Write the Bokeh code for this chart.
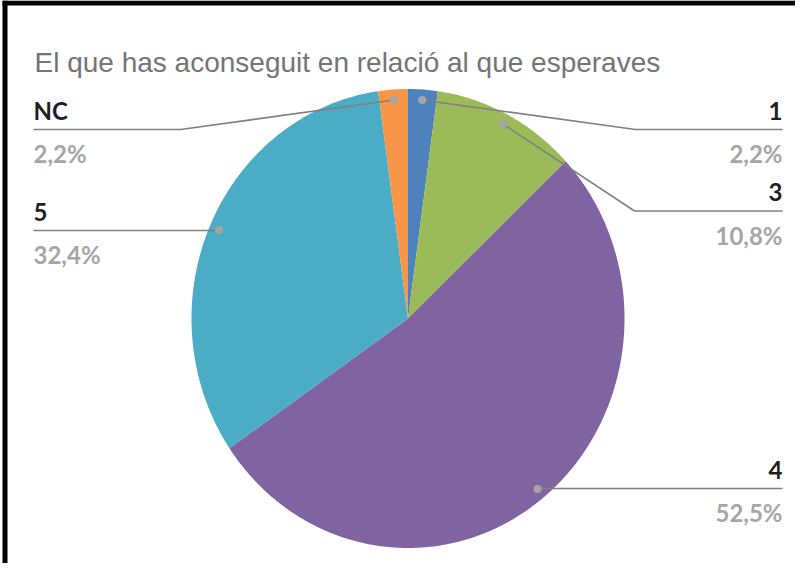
import numpy as np
from bokeh.plotting import figure
from bokeh.models import Range1d, ColumnDataSource
from bokeh.core.properties import value
from bokeh.embed import file_html
from bokeh.resources import INLINE

# ---- data ----
categories = ["1", "3", "4", "5", "NC"]
percentages = [2.2, 10.8, 52.5, 32.4, 2.2]
pct_labels = ["2,2%", "10,8%", "52,5%", "32,4%", "2,2%"]
colors = ["#4F81BD", "#9BBB59", "#8064A2", "#4BACC6", "#F79646"]
title_text = "El que has aconseguit en relació al que esperaves"

# ---- layout (page-pixel coordinates) ----
W, H = 795, 563
X0, Y0 = 8, 8
cx, cy = 415.5, 326.0
rx, ry = 216.5, 229.5
dot_r = 0.954

p = figure(width=W, height=H, output_backend="svg", toolbar_location=None,
           x_range=Range1d(X0, X0 + W), y_range=Range1d(Y0 + H, Y0),
           min_border=0, outline_line_color=None, background_fill_color="white",
           border_fill_color="white")
p.axis.visible = False
p.grid.visible = False

# frame border (black, left and top)
p.quad(left=[10, 10], right=[15, 811], top=[8, 8], bottom=[571, 13],
       fill_color="black", line_color=None)

# pie slices
total = sum(percentages)
vals = np.array(percentages) / total
ends = np.cumsum(vals) * 2 * np.pi
starts = ends - vals * 2 * np.pi
xs, ys = [], []
for s, e in zip(starts, ends):
    t = np.linspace(s, e, max(4, int((e - s) * 120)))
    xs.append([cx] + list(cx + rx * np.sin(t)) + [cx])
    ys.append([cy] + list(cy - ry * np.cos(t)) + [cy])
p.patches(xs, ys, fill_color=colors, line_color=None)

mids = (starts + ends) / 2
dx = cx + rx * dot_r * np.sin(mids)
dy = cy - ry * dot_r * np.cos(mids)

# leader lines and label layout per category
# (elbow points, end x, line y, side)
layout = {
    "1":  dict(elbow=(643, 137), end=790, ly=137, side="right"),
    "3":  dict(elbow=(642, 218.5), end=790, ly=218.5, side="right"),
    "4":  dict(elbow=None, end=790, ly=496, side="right"),
    "5":  dict(elbow=None, end=41, ly=238, side="left"),
    "NC": dict(elbow=(188, 137), end=41, ly=137, side="left"),
}
line_xs, line_ys = [], []
for i, c in enumerate(categories):
    L = layout[c]
    lx = [dx[i]]
    ly = [dy[i]]
    if L["elbow"] is not None:
        lx.append(L["elbow"][0]); ly.append(L["elbow"][1])
    else:
        ly[0] = L["ly"]
    lx.append(L["end"]); ly.append(L["ly"])
    line_xs.append(lx); line_ys.append(ly)
p.multi_line(line_xs, line_ys, line_color="#808080", line_width=1.6)
p.scatter(dx, dy, size=8, fill_color="#A5A5A5", line_color=None)

# labels
name_src = dict(x=[], y=[], t=[], a=[])
pct_src = dict(x=[], y=[], t=[], a=[])
for i, c in enumerate(categories):
    L = layout[c]
    align = "right" if L["side"] == "right" else "left"
    x = L["end"]
    name_src["x"].append(x); name_src["y"].append(L["ly"] - 19)
    name_src["t"].append(c); name_src["a"].append(align)
    pct_src["x"].append(x); pct_src["y"].append(L["ly"] + 24)
    pct_src["t"].append(pct_labels[i]); pct_src["a"].append(align)

p.text(x="x", y="y", text="t", text_align="a", source=ColumnDataSource(name_src),
       text_font=value("Lato"), text_font_style="bold", text_font_size="24px",
       text_color="#1F1F1F", text_baseline="alphabetic")
p.text(x="x", y="y", text="t", text_align="a", source=ColumnDataSource(pct_src),
       text_font=value("Lato"), text_font_style="bold", text_font_size="24px",
       text_color="#A6A6A6", text_baseline="alphabetic")

# title
p.text(x=[42], y=[70], text=[title_text], text_font=value("Liberation Sans"),
       text_font_size="28px", text_color="#757575", text_baseline="alphabetic",
       text_align="left")

open("out.html", "w").write(file_html(p, INLINE))
